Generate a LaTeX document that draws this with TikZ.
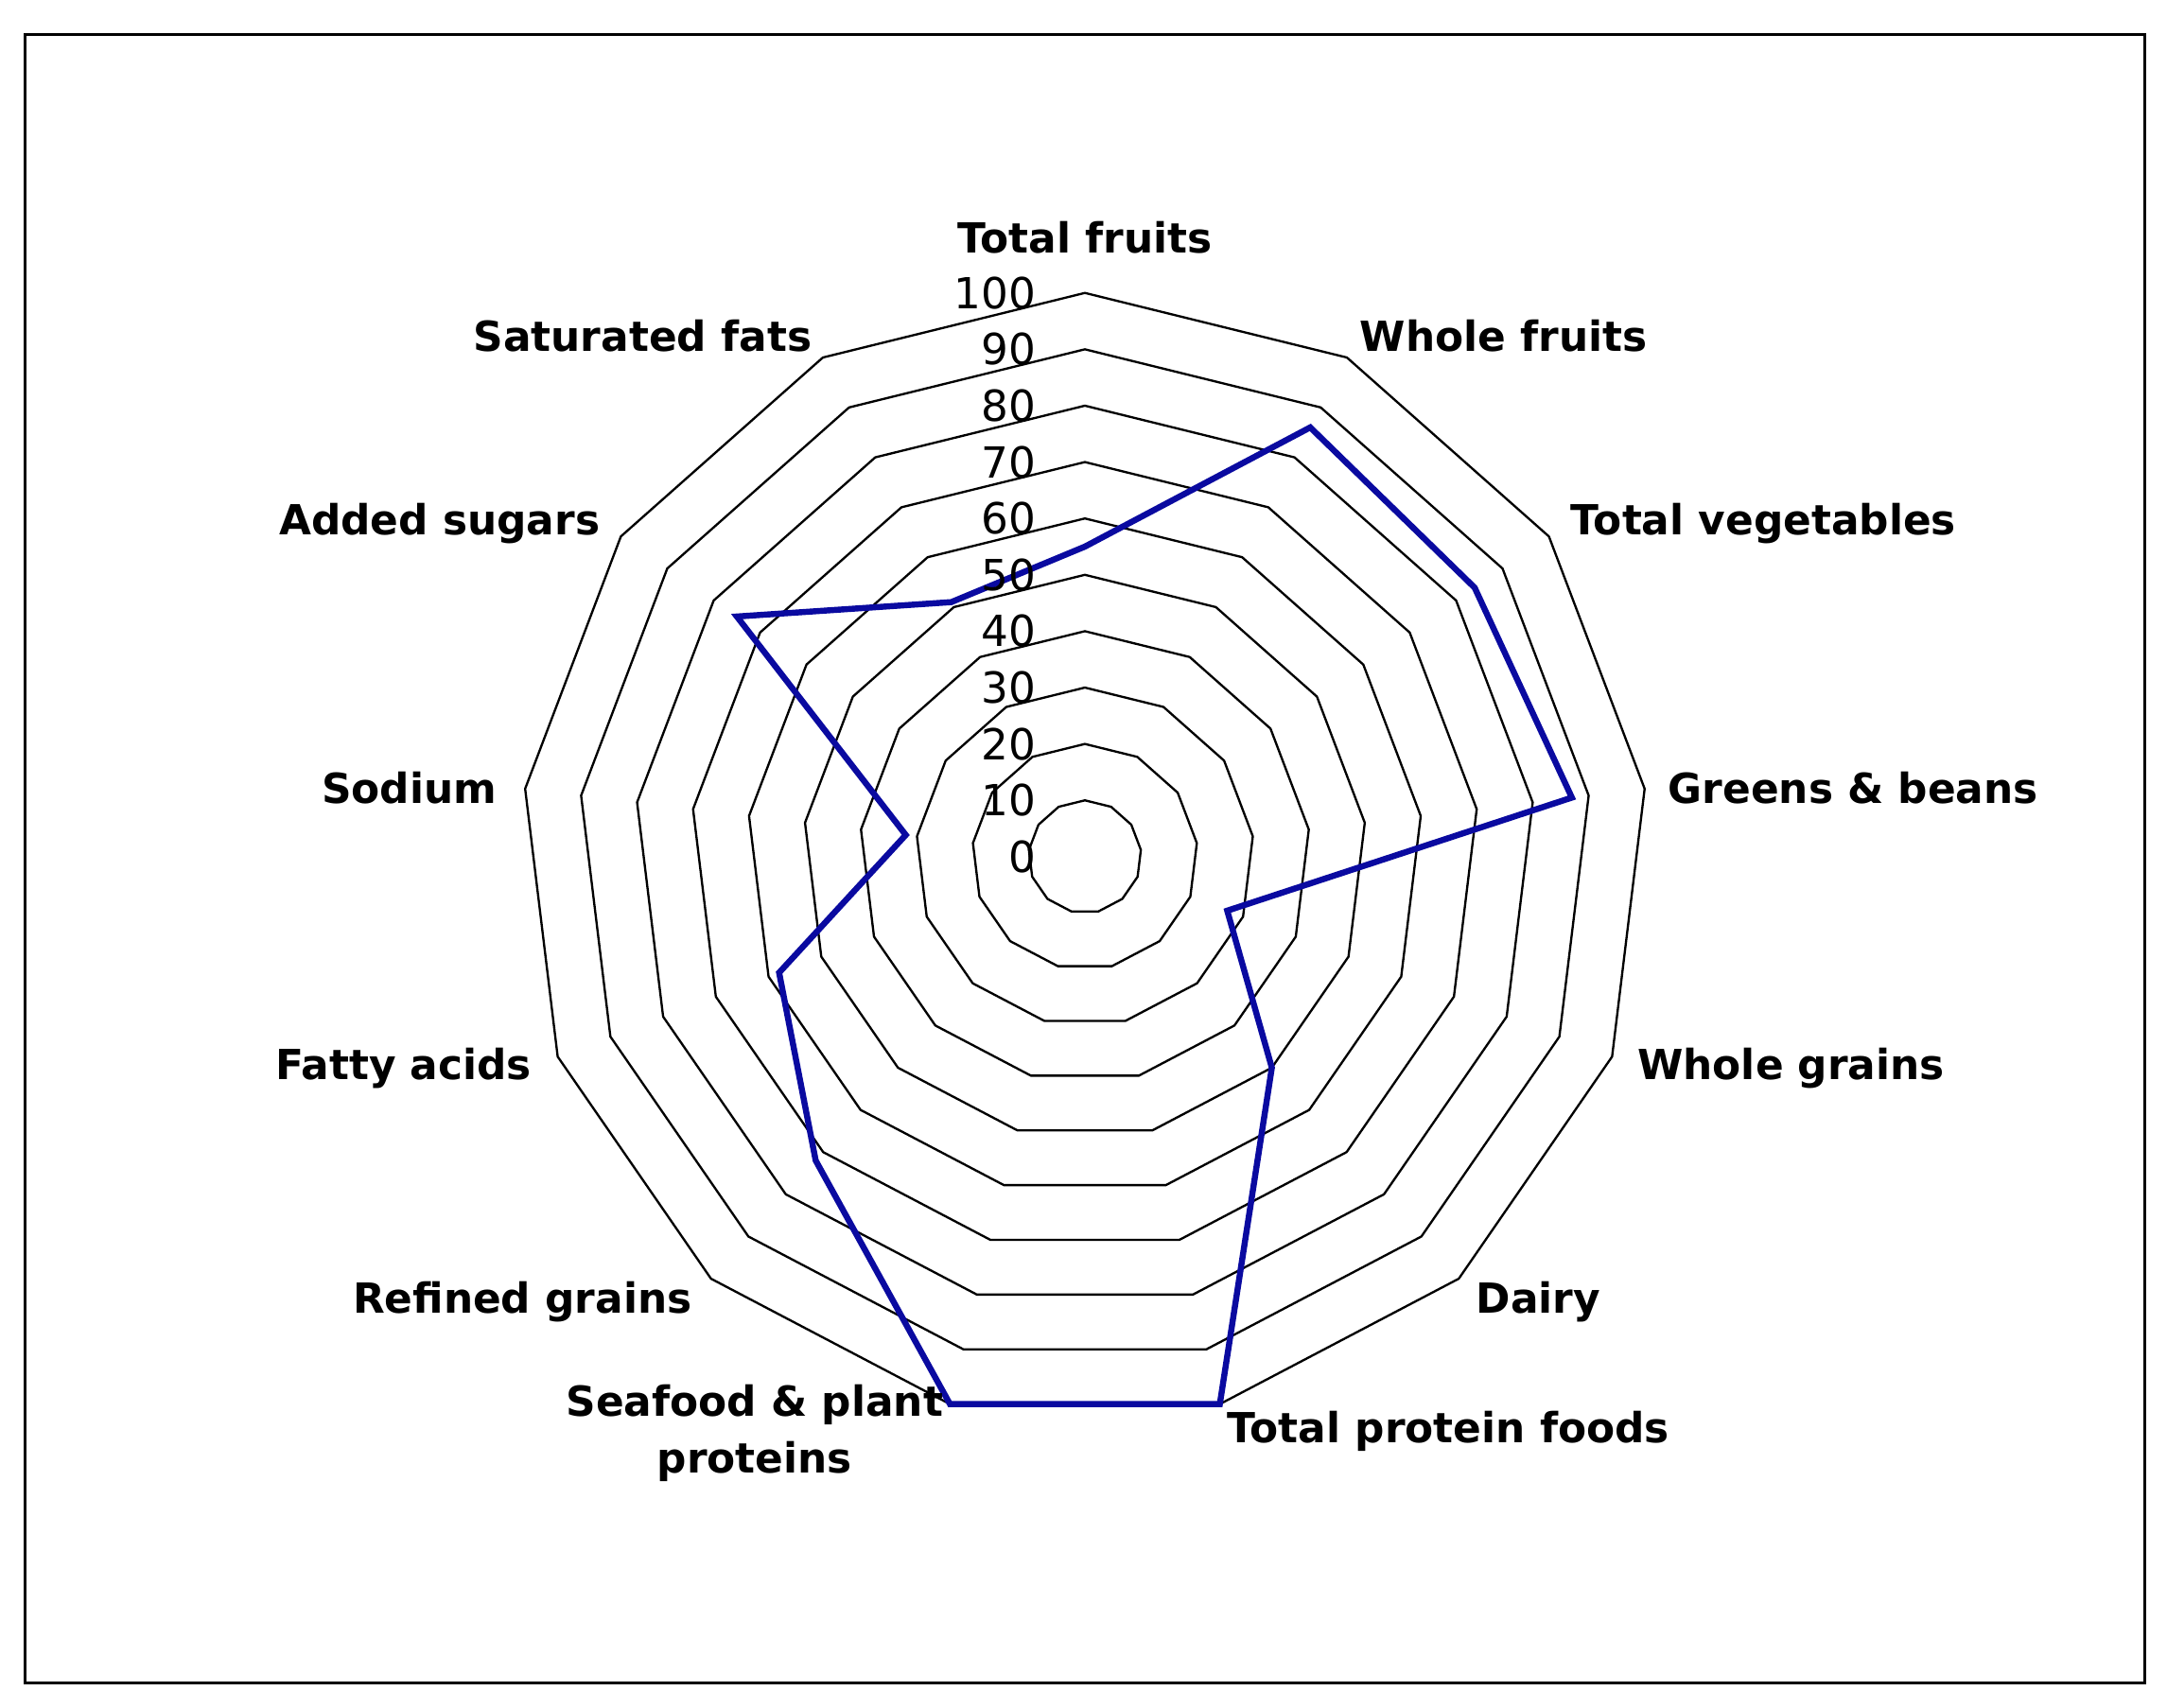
\documentclass[tikz,border=0pt]{standalone}
\usepackage{fontspec}
\setmainfont{DejaVu Sans}
\definecolor{navy}{RGB}{10,10,160}
\begin{document}
\begin{tikzpicture}[x=0.5pt,y=0.5pt,
  cat/.style={font=\bfseries\fontsize{15}{20.5}\selectfont,inner sep=0pt,align=center},
  tick/.style={font=\fontsize{15.5}{18}\selectfont,anchor=east,inner sep=0pt},
  ring/.style={line width=0.8pt,black},
  series/.style={line width=2.2pt,navy,line join=miter}]
\useasboundingbox (0,0) rectangle (1568,1236);
\draw[line width=1pt] (18,18) rectangle (1552,1211);
\coordinate (c) at (785,616);
\begin{scope}[shift={(c)}]
\foreach \k in {1,...,10}{
  \draw[ring] (90:{40.8*\k}) \foreach \i in {1,...,12}{ -- ({90-\i*360/13}:{40.8*\k}) } -- cycle;
}
\foreach \v [count=\i from 0] in {55,86,84,87,27,50,100,100,72,58,32,75,51}{
  \coordinate (p\i) at ({90-\i*360/13}:{4.08*\v});
}
\draw[series] (p0)--(p1)--(p2)--(p3)--(p4)--(p5)--(p6)--(p7)--(p8)--(p9)--(p10)--(p11)--(p12)--cycle;
\end{scope}
\foreach \v in {0,10,...,100}{
  \node[tick] (t\v) at (750,{616+4.08*\v}) {\v};
}
\node[cat] (l0) at (785,1064) {Total fruits};
\node[cat] (l1) at (1088,993) {Whole fruits};
\node[cat] (l2) at (1276,857) {Total vegetables};
\node[cat] (l3) at (1341,666) {Greens \& beans};
\node[cat] (l4) at (1296,463) {Whole grains};
\node[cat] (l5) at (1113,294) {Dairy};
\node[cat] (l6) at (1048,200) {Total protein foods};
\node[cat] (l7) at (546,199) {Seafood \& plant\\proteins};
\node[cat] (l8) at (378,294) {Refined grains};
\node[cat] (l9) at (292,463) {Fatty acids};
\node[cat] (l10) at (296,666) {Sodium};
\node[cat] (l11) at (318,857) {Added sugars};
\node[cat] (l12) at (465,993) {Saturated fats};
\end{tikzpicture}
\end{document}
